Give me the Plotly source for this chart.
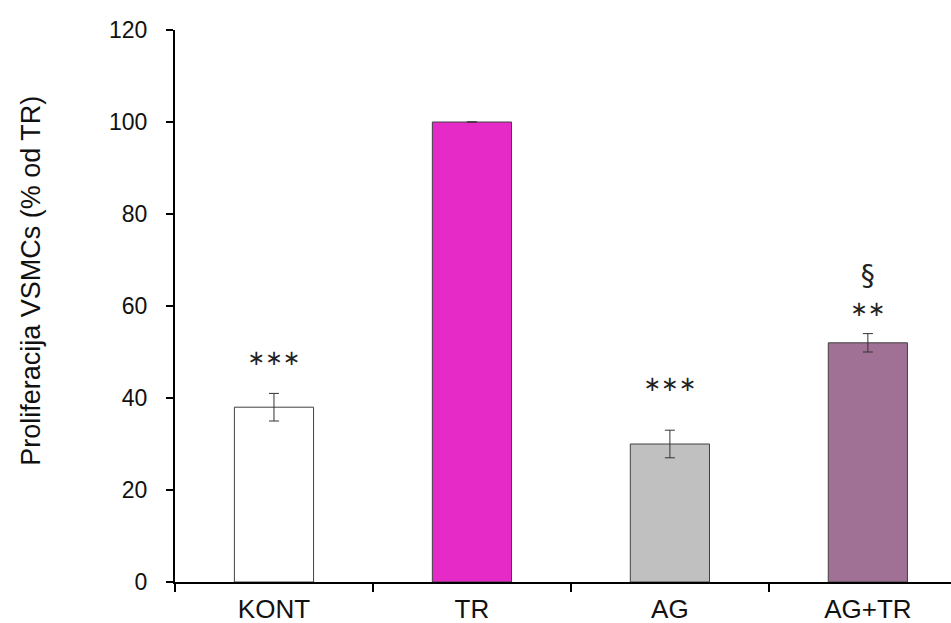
import plotly.graph_objects as go

# Proliferation of VSMCs, expressed as % of the TR group
categories = ["KONT", "TR", "AG", "AG+TR"]
values = [38, 100, 30, 52]
errors = [3, None, 3, 2]
bar_colors = ["#FFFFFF", "#E52AC8", "#C0C0C0", "#A07095"]

# Significance marks placed above each bar
mark_categories = ["KONT", "AG", "AG+TR", "AG+TR"]
mark_values = [48.3, 42.6, 59, 66]
mark_texts = ["∗∗∗", "∗∗∗", "∗∗", "§"]
mark_sizes = [21, 21, 21, 28]

y_title = "Proliferacija VSMCs (% od TR)"
font_family = "Liberation Sans, Arial, sans-serif"

fig = go.Figure()
fig.add_trace(go.Bar(
    x=categories,
    y=values,
    width=0.4,
    marker=dict(color=bar_colors, line=dict(color="#404040", width=1)),
    error_y=dict(type="data", array=errors, visible=True,
                 color="#333333", thickness=1, width=5),
    showlegend=False,
    hoverinfo="x+y",
))

fig.add_trace(go.Scatter(
    x=mark_categories,
    y=mark_values,
    mode="text",
    text=mark_texts,
    textposition="middle center",
    textfont=dict(family="DejaVu Sans, Liberation Sans, sans-serif",
                  size=mark_sizes, color="#222222"),
    showlegend=False,
    hoverinfo="skip",
))

# Rotated y-axis title, placed slightly above the axis midpoint
fig.add_annotation(
    text=y_title,
    textangle=-90,
    xref="paper", yref="paper",
    x=-0.186, y=0.545,
    xanchor="center", yanchor="middle",
    showarrow=False,
    font=dict(family=font_family, size=27, color="#111111"),
)

fig.update_layout(
    width=951,
    height=623,
    margin=dict(l=175, r=0, t=30, b=41),
    paper_bgcolor="white",
    plot_bgcolor="white",
    font=dict(family=font_family, color="#222222"),
    xaxis=dict(
        range=[-0.5, 3.42],
        showline=True,
        linecolor="#000000",
        linewidth=2,
        ticks="outside",
        tickson="boundaries",
        ticklen=8,
        tickwidth=2,
        tickcolor="#000000",
        tickfont=dict(size=26, color="#111111"),
        ticklabelstandoff=3,
        showgrid=False,
        zeroline=False,
    ),
    yaxis=dict(
        range=[0, 120],
        dtick=20,
        showline=True,
        linecolor="#000000",
        linewidth=2,
        ticks="outside",
        ticklen=7,
        tickwidth=2,
        tickcolor="#000000",
        tickfont=dict(size=23, color="#111111"),
        ticklabelstandoff=14,
        showgrid=False,
        zeroline=False,
    ),
)

fig.write_html("out.html")
